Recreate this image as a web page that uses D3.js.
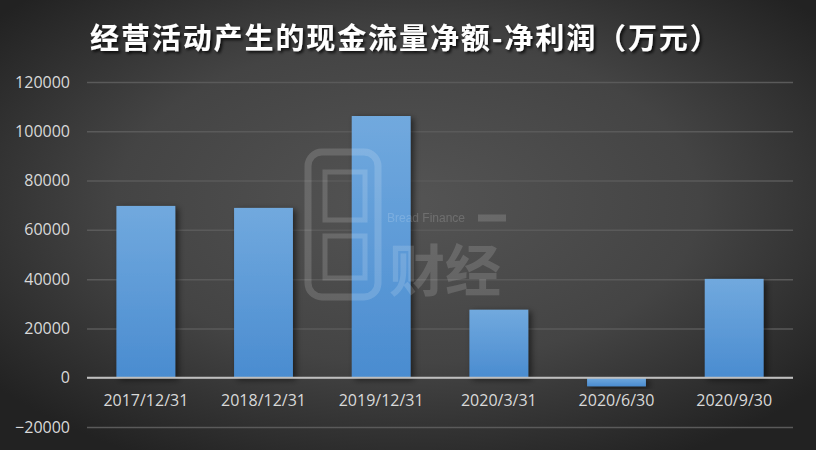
<!DOCTYPE html>
<html><head><meta charset="utf-8">
<script src="https://cdn.jsdelivr.net/npm/d3@7"></script>
<style>html,body{margin:0;padding:0;background:#333;}svg{display:block;}</style>
</head><body>
<svg id="chart" width="816" height="450"></svg>
<script>
const title = "经营活动产生的现金流量净额-净利润（万元）";
const categories = ["2017/12/31","2018/12/31","2019/12/31","2020/3/31","2020/6/30","2020/9/30"];
const values = [69700, 68900, 106200, 27600, -3500, 40100];
const yTicks = [-20000, 0, 20000, 40000, 60000, 80000, 100000, 120000];

const W = 816, H = 450;
const svg = d3.select("#chart");
const defs = svg.append("defs");

const bg = defs.append("radialGradient").attr("id","bg").attr("cx","50%").attr("cy","45%").attr("r","65%");
bg.append("stop").attr("offset","0%").attr("stop-color","#545454");
bg.append("stop").attr("offset","55%").attr("stop-color","#444444");
bg.append("stop").attr("offset","100%").attr("stop-color","#222222");

const bar = defs.append("linearGradient").attr("id","barg").attr("x1",0).attr("y1",0).attr("x2",0).attr("y2",1);
bar.append("stop").attr("offset","0%").attr("stop-color","#71a9de");
bar.append("stop").attr("offset","100%").attr("stop-color","#4a8cd0");

const sh = defs.append("filter").attr("id","sh").attr("x","-30%").attr("y","-10%").attr("width","160%").attr("height","130%");
sh.append("feDropShadow").attr("dx",3).attr("dy",2).attr("stdDeviation",3).attr("flood-color","#000").attr("flood-opacity",0.55);

const tsh = defs.append("filter").attr("id","tsh").attr("x","-5%").attr("y","-30%").attr("width","110%").attr("height","160%");
tsh.append("feDropShadow").attr("dx",2).attr("dy",2).attr("stdDeviation",1.5).attr("flood-color","#000").attr("flood-opacity",0.8);

svg.append("rect").attr("width",W).attr("height",H).attr("fill","url(#bg)");

const x = d3.scaleBand().domain(categories).range([87, 793]).paddingInner(0.5).paddingOuter(0.25);
const y = d3.scaleLinear().domain([-20000, 120000]).range([427, 82]);

// gridlines
const yAxis = d3.axisLeft(y).tickValues(yTicks).tickSize(-(793-87)).tickPadding(17).tickFormat(d3.format("d"));
const gy = svg.append("g").attr("transform","translate(87,0)").call(yAxis);
gy.select(".domain").remove();
gy.selectAll(".tick line").attr("stroke","#5a5a5a").attr("stroke-width",1.5);
gy.selectAll(".tick text").attr("fill","#d9d9d9").attr("font-size","16px").attr("font-family","'Open Sans', 'DejaVu Sans', sans-serif");

// bars
svg.append("g").selectAll("rect").data(values).join("rect")
  .attr("x",(d,i)=>x(categories[i]))
  .attr("width",x.bandwidth())
  .attr("y",d=>y(Math.max(0,d)))
  .attr("height",d=>Math.abs(y(d)-y(0)))
  .attr("fill","url(#barg)")
  .attr("filter","url(#sh)");

// zero line
svg.append("line").attr("x1",87).attr("x2",793).attr("y1",y(0)).attr("y2",y(0))
  .attr("stroke","#bfbfbf").attr("stroke-width",2);

// watermark (drawn over bars)
const wm = svg.append("g").attr("opacity",0.15).attr("fill","none").attr("stroke","#ffffff");
wm.append("rect").attr("x",308).attr("y",152).attr("width",70).attr("height",145).attr("rx",14).attr("stroke-width",7);
wm.append("rect").attr("x",325).attr("y",172).attr("width",40).attr("height",48).attr("stroke-width",5);
wm.append("rect").attr("x",325).attr("y",236).attr("width",40).attr("height",42).attr("stroke-width",5);
wm.append("path").attr("d","M478,218 L506,218").attr("stroke-width",7);
svg.append("text").attr("x",387).attr("y",222).attr("fill","#ffffff").attr("opacity",0.16)
  .attr("font-family","'Liberation Sans', sans-serif").attr("font-size","12px").text("Bread Finance");
svg.append("text").attr("x",389).attr("y",291).attr("fill","#ffffff").attr("opacity",0.14)
  .attr("font-family","'Noto Sans CJK SC', sans-serif").attr("font-weight","bold").attr("font-size","56px").text("财经");

// x labels
const xAxis = d3.axisBottom(x).tickSize(0).tickPadding(17);
const gx = svg.append("g").attr("transform",`translate(0,${y(0)})`).call(xAxis);
gx.select(".domain").remove();
gx.selectAll(".tick text").attr("fill","#d9d9d9").attr("font-size","16px").attr("font-family","'Open Sans', 'DejaVu Sans', sans-serif");

// title
svg.append("text").attr("x",90).attr("y",49).attr("fill","#ffffff")
  .attr("font-family","'Noto Sans CJK SC', sans-serif").attr("font-weight","bold").attr("font-size","29px")
  .attr("letter-spacing","1.9px")
  .attr("filter","url(#tsh)").text(title);
</script>
</body></html>
